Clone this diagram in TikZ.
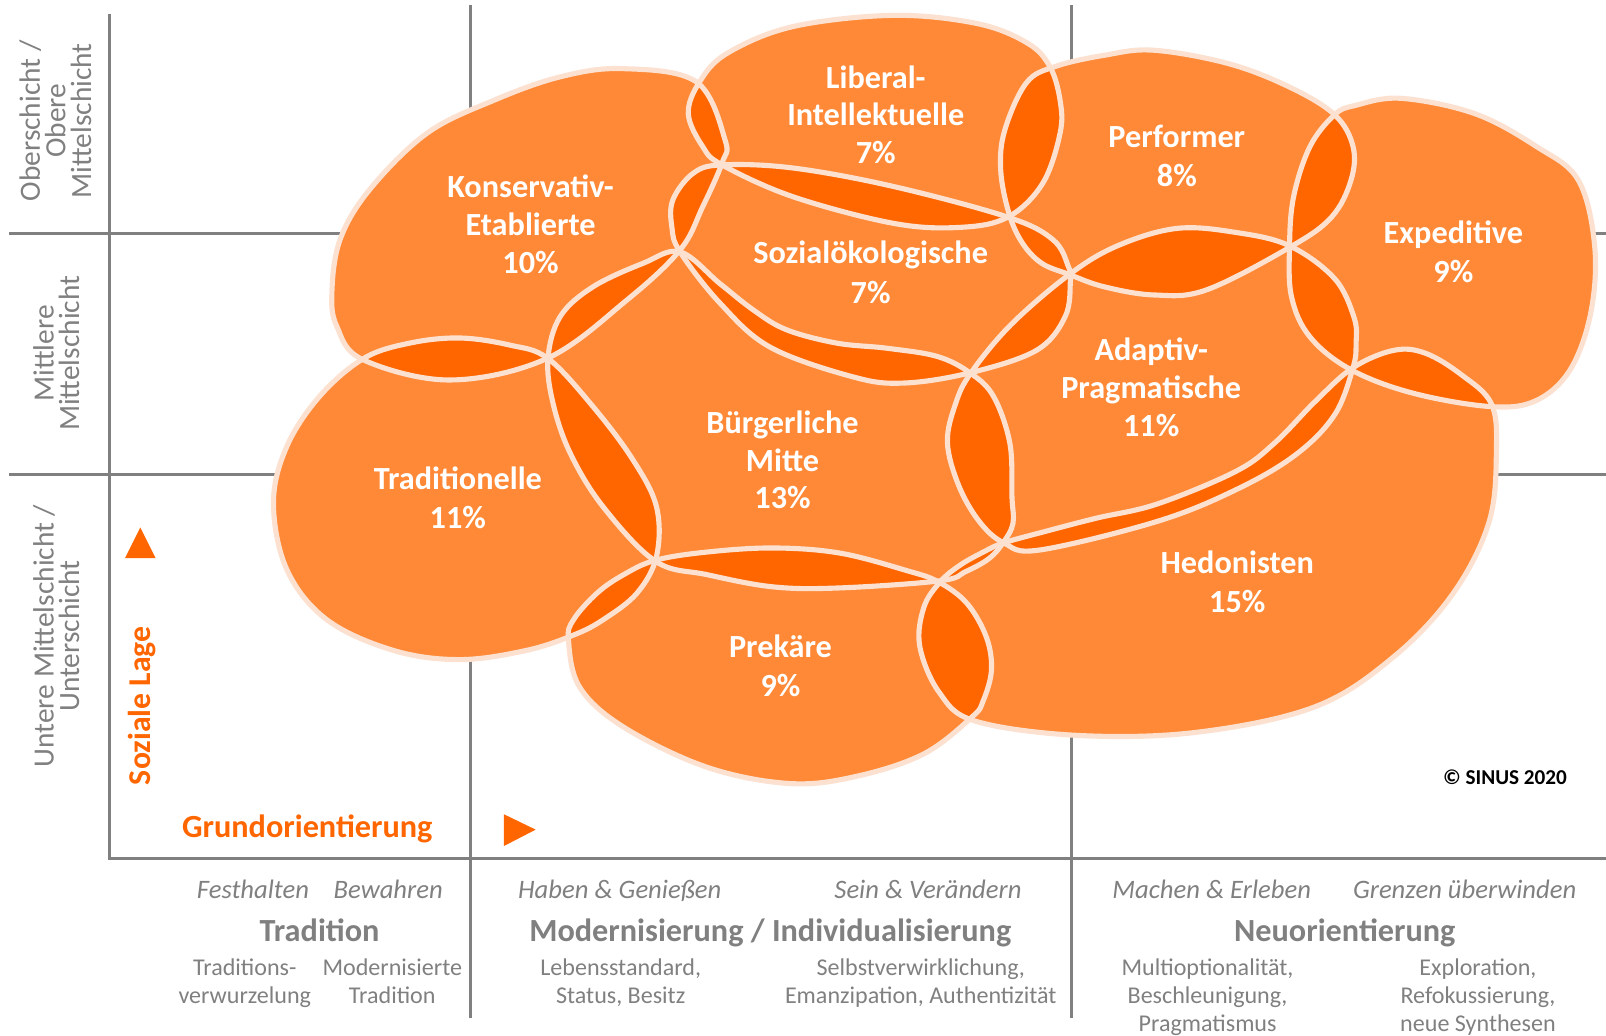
\documentclass[tikz,border=0pt]{standalone}
\usepackage{fontspec}
\setmainfont{Carlito}
\definecolor{milieufill}{HTML}{FF8936}
\definecolor{milieudark}{HTML}{FF6600}
\definecolor{milieurim}{HTML}{FCE1D1}
\definecolor{gridgray}{HTML}{808080}

\newcommand{\shapeKon}{plot[smooth cycle,tension=0.6] coordinates {(608,67) (680,80) (708,137) (705,159) (686,202) (664,244) (612,293) (534,350) (439,371) (354,351) (329,319) (324,286) (332,234) (361,185) (417,130) (482,98) (547,75)}}
\newcommand{\shapeLib}{plot[smooth cycle,tension=0.6] coordinates {(872,15) (954,23) (1003,42) (1025,65) (1035,98) (1035,130) (1018,179) (984,212) (937,222) (872,218) (774,192) (705,161) (686,143) (672,111) (683,80) (710,52) (774,26)}}
\newcommand{\shapeSoz}{plot[smooth cycle,tension=0.6] coordinates {(705,161) (774,164) (872,182) (984,212) (1028,234) (1043,260) (1045,275) (1040,309) (1012,342) (947,364) (882,374) (833,368) (752,339) (703,296) (664,246) (656,222) (657,195) (677,169)}}
\newcommand{\shapePer}{plot[smooth cycle,tension=0.6] coordinates {(1126,49) (1199,62) (1259,85) (1303,112) (1321,143) (1319,176) (1300,212) (1260,241) (1178,283) (1127,288) (1078,280) (1044,268) (1017,257) (998,237) (985,208) (977,166) (981,127) (1002,81) (1030,65) (1078,54)}}
\newcommand{\shapeExp}{plot[smooth cycle,tension=0.6] coordinates {(1368,96) (1440,111) (1500,143) (1541,176) (1557,241) (1553,306) (1533,361) (1500,391) (1456,397) (1380,384) (1319,361) (1279,329) (1261,290) (1259,241) (1263,192) (1279,143) (1303,112) (1323,103)}}
\newcommand{\shapeAda}{plot[smooth cycle,tension=0.6] coordinates {(1044,268) (1091,240) (1149,223) (1207,227) (1259,240) (1303,272) (1322,310) (1324,335) (1321,359) (1303,405) (1265,444) (1207,478) (1130,509) (1015,537) (980,530) (956,509) (936,474) (925,432) (933,394) (948,364) (987,317)}}
\newcommand{\shapeHed}{plot[smooth cycle,tension=0.6] coordinates {(980,530) (1020,519) (1070,506) (1130,492) (1207,460) (1245,432) (1284,392) (1321,359) (1361,342) (1392,345) (1427,366) (1456,394) (1461,439) (1454,509) (1419,579) (1361,641) (1284,690) (1168,715) (1052,718) (952,704) (917,676) (898,631) (902,593) (918,568) (937,552) (960,539)}}
\newcommand{\shapeBue}{plot[smooth cycle,tension=0.6] coordinates {(664,246) (703,277) (736,303) (768,322) (817,335) (866,340) (915,348) (947,364) (970,387) (986,433) (988,485) (989,511) (980,529) (966,545) (943,558) (918,567) (820,574) (755,573) (690,561) (640,548) (589,495) (557,443) (540,394) (535,350) (547,309) (579,280) (628,257)}}
\newcommand{\shapeTra}{plot[smooth cycle,tension=0.6] coordinates {(355,350) (400,335) (449,330) (498,337) (535,350) (579,397) (618,449) (641,495) (641,543) (622,579) (589,605) (560,620) (514,635) (449,644) (384,635) (319,605) (280,556) (267,491) (280,436) (312,387)}}
\newcommand{\shapePre}{plot[smooth cycle,tension=0.6] coordinates {(640,547) (690,539) (755,535) (820,540) (885,557) (916,568) (944,589) (963,622) (968,654) (960,684) (949,700) (902,736) (836,758) (771,765) (690,749) (609,710) (566,671) (555,625) (560,605) (583,579) (609,561)}}
\newcommand{\lens}[2]{\begin{scope}\clip #1; \fill[milieudark] #2; \end{scope}}

\begin{document}
\begin{tikzpicture}[x=1pt,y=-1pt,
    gridline/.style={gridgray,line width=3pt},
    milieu/.style={text=white,font=\bfseries\fontsize{31.5}{37}\selectfont,align=center,inner sep=0pt},
    milieu2/.style={milieu,font=\bfseries\fontsize{31.5}{38.5}\selectfont},
    layer/.style={text=gridgray,font=\fontsize{28.7}{25}\selectfont,align=center,rotate=90,inner sep=0pt},
    motto/.style={text=gridgray,font=\itshape\fontsize{26}{30}\selectfont,anchor=base,inner sep=0pt},
    axis title/.style={text=gridgray,font=\bfseries\fontsize{31.5}{36}\selectfont,anchor=base,inner sep=0pt},
    value/.style={text=gridgray,font=\fontsize{23.5}{27.5}\selectfont,align=center,anchor=north,inner sep=0pt}]
    \useasboundingbox (0,0) rectangle (1568,1011);

    \draw[gridline] (9,228) -- (1568,228);
    \draw[gridline] (9,463) -- (1568,463);
    \draw[gridline] (459,5) -- (459,994);
    \draw[gridline] (1046,5) -- (1046,994);
    \draw[gridline] (107,14) -- (107,838) -- (1568,838);

    \fill[milieufill] \shapeKon;
    \fill[milieufill] \shapeLib;
    \fill[milieufill] \shapeSoz;
    \fill[milieufill] \shapePer;
    \fill[milieufill] \shapeExp;
    \fill[milieufill] \shapeAda;
    \fill[milieufill] \shapeHed;
    \fill[milieufill] \shapeBue;
    \fill[milieufill] \shapeTra;
    \fill[milieufill] \shapePre;

    \lens{\shapeKon}{\shapeLib}
    \lens{\shapeKon}{\shapeSoz}
    \lens{\shapeKon}{\shapeBue}
    \lens{\shapeKon}{\shapeTra}
    \lens{\shapeLib}{\shapeSoz}
    \lens{\shapeLib}{\shapePer}
    \lens{\shapeSoz}{\shapePer}
    \lens{\shapeSoz}{\shapeAda}
    \lens{\shapeSoz}{\shapeBue}
    \lens{\shapePer}{\shapeAda}
    \lens{\shapePer}{\shapeExp}
    \lens{\shapeExp}{\shapeAda}
    \lens{\shapeExp}{\shapeHed}
    \lens{\shapeAda}{\shapeHed}
    \lens{\shapeAda}{\shapeBue}
    \lens{\shapeBue}{\shapeTra}
    \lens{\shapeBue}{\shapePre}
    \lens{\shapeBue}{\shapeHed}
    \lens{\shapeTra}{\shapePre}
    \lens{\shapePre}{\shapeHed}

    \draw[milieurim,line width=5pt] \shapeKon;
    \draw[milieurim,line width=5pt] \shapeLib;
    \draw[milieurim,line width=5pt] \shapeSoz;
    \draw[milieurim,line width=5pt] \shapePer;
    \draw[milieurim,line width=5pt] \shapeExp;
    \draw[milieurim,line width=5pt] \shapeAda;
    \draw[milieurim,line width=5pt] \shapeHed;
    \draw[milieurim,line width=5pt] \shapeBue;
    \draw[milieurim,line width=5pt] \shapeTra;
    \draw[milieurim,line width=5pt] \shapePre;

    \node[milieu] (kon) at (518,219) {Konservativ-\\Etablierte\\10\%};
    \node[milieu] (lib) at (855,112) {Liberal-\\Intellektuelle\\7\%};
    \node[milieu2] (per) at (1149,152) {Performer\\8\%};
    \node[milieu2] (exp) at (1419,246) {Expeditive\\9\%};
    \node[milieu2] (soz) at (850,266) {Sozialökologische\\7\%};
    \node[milieu] (ada) at (1124,378) {Adaptiv-\\Pragmatische\\11\%};
    \node[milieu] (bue) at (764,449) {Bürgerliche\\Mitte\\13\%};
    \node[milieu2] (tra) at (447,486) {Traditionelle\\11\%};
    \node[milieu2] (hed) at (1208,568) {Hedonisten\\15\%};
    \node[milieu2] (pre) at (762,650) {Prekäre\\9\%};

    \node[layer] (oben) at (54,118) {Oberschicht /\\Obere\\Mittelschicht};
    \node[layer] (mitte) at (55,345) {Mittlere\\Mittelschicht};
    \node[layer] (unten) at (55,621) {Untere Mittelschicht /\\Unterschicht};

    \fill[milieudark] (122,545) -- (137,515) -- (152,545) -- cycle;
    \fill[milieudark] (492,795) -- (523,810) -- (492,826) -- cycle;
    \node[text=milieudark,font=\bfseries\fontsize{31}{36}\selectfont,rotate=90,inner sep=0pt] (lage) at (139,689) {Soziale Lage};
    \node[text=milieudark,font=\bfseries\fontsize{31.5}{36}\selectfont,anchor=base,inner sep=0pt] (grund) at (300,818) {Grundorientierung};
    \node[font=\bfseries\fontsize{20.7}{24}\selectfont,anchor=base east,inner sep=0pt] (copy) at (1530,766) {© SINUS 2020};

    \node[motto] (festhalten) at (247,877) {Festhalten};
    \node[motto] (bewahren) at (379,877) {Bewahren};
    \node[motto] (haben) at (605,877) {Haben \& Genießen};
    \node[motto] (sein) at (906,877) {Sein \& Verändern};
    \node[motto] (machen) at (1183,877) {Machen \& Erleben};
    \node[motto] (grenzen) at (1430,877) {Grenzen überwinden};

    \node[axis title] (tradition) at (312,919) {Tradition};
    \node[axis title] (modern) at (752,919) {Modernisierung / Individualisierung};
    \node[axis title] (neu) at (1313,919) {Neuorientierung};

    \node[value] (verwurzelung) at (239,936) {Traditions-\\verwurzelung};
    \node[value] (modtrad) at (383,936) {Modernisierte\\Tradition};
    \node[value] (standard) at (606,936) {Lebensstandard,\\Status, Besitz};
    \node[value] (selbst) at (899,936) {Selbstverwirklichung,\\Emanzipation, Authentizität};
    \node[value] (multi) at (1179,936) {Multioptionalität,\\Beschleunigung,\\Pragmatismus};
    \node[value] (explo) at (1443,936) {Exploration,\\Refokussierung,\\neue Synthesen};
\end{tikzpicture}
\end{document}
